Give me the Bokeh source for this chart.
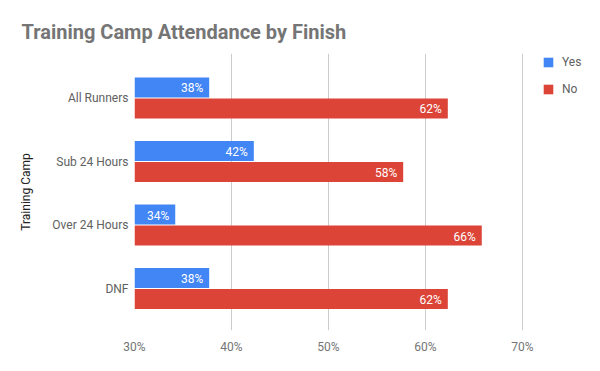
from bokeh.plotting import figure
from bokeh.models import ColumnDataSource, FixedTicker, PrintfTickFormatter, Legend, LegendItem, Range1d
from bokeh.core.properties import value
from bokeh.embed import file_html
from bokeh.resources import INLINE

categories = ["All Runners", "Sub 24 Hours", "Over 24 Hours", "DNF"]
yes_values = [37.7, 42.3, 34.2, 37.7]
no_values = [62.3, 57.7, 65.8, 62.3]
series_names = ["Yes", "No"]
x_ticks = [30, 40, 50, 60, 70]

BLUE = "#4285F4"
RED = "#DB4437"
FONT = "Roboto"
X_MIN, X_MAX = 30, 70

n = len(categories)
pos = [n - 1 - i for i in range(n)]
off = 0.165
bh = 0.315

yes_src = ColumnDataSource(dict(
    y=[p_ + off for p_ in pos], right=yes_values, left=[X_MIN] * n,
    label=[f"{round(v)}%" for v in yes_values]))
no_src = ColumnDataSource(dict(
    y=[p_ - off for p_ in pos], right=no_values, left=[X_MIN] * n,
    label=[f"{round(v)}%" for v in no_values]))

W, H = 592, 360
FL, FR, FT, FB = 134, 592, 53, 330          # frame edges in pixels
px_per_unit = (522 - FL) / (X_MAX - X_MIN)   # 70% gridline at x=522
x_end = X_MIN + (FR - FL) / px_per_unit      # extra room for legend

p = figure(width=W, height=H, output_backend="svg", toolbar_location=None,
           x_range=Range1d(X_MIN, x_end), y_range=Range1d(-0.66, n - 1 + 0.70),
           min_border_left=FL, min_border_right=W - FR, min_border_top=FT,
           min_border_bottom=H - FB)
p.outline_line_color = None
p.background_fill_color = "white"
p.border_fill_color = "white"

r_yes = p.hbar(y="y", left="left", right="right", height=bh, source=yes_src,
               fill_color=BLUE, line_color=None)
r_no = p.hbar(y="y", left="left", right="right", height=bh, source=no_src,
              fill_color=RED, line_color=None)

for src in (yes_src, no_src):
    p.text(x="right", y="y", text="label", source=src, text_align="right",
           text_baseline="middle", x_offset=-6, y_offset=1, text_color="white",
           text_font_size="12px", text_font=value(FONT))

# axes
for ax in (p.xaxis, p.yaxis):
    ax.axis_line_color = None
    ax.major_tick_line_color = None
    ax.minor_tick_line_color = None
    ax.major_tick_out = 0
    ax.major_tick_in = 0
    ax.minor_tick_out = 0
    ax.minor_tick_in = 0
    ax.major_label_text_font = FONT
    ax.major_label_text_font_size = "12px"

p.xaxis.ticker = FixedTicker(ticks=x_ticks)
p.xaxis.formatter = PrintfTickFormatter(format="%d%%")
p.xaxis.major_label_text_color = "#757575"
p.xaxis.major_label_standoff = 9

p.yaxis.ticker = FixedTicker(ticks=pos)
p.yaxis.major_label_overrides = {pos[i]: categories[i] for i in range(n)}
p.yaxis.major_label_text_color = "#616161"
p.yaxis.major_label_standoff = 6
p.yaxis.axis_label = "Training Camp"
p.yaxis.axis_label_text_font = FONT
p.yaxis.axis_label_text_font_size = "12px"
p.yaxis.axis_label_text_font_style = "normal"
p.yaxis.axis_label_text_color = "#222222"
p.yaxis.axis_label_standoff = 16

p.xgrid.grid_line_color = "#cccccc"
p.xgrid.ticker = FixedTicker(ticks=x_ticks)
p.ygrid.grid_line_color = None

# title
p.title.text = "Training Camp Attendance by Finish"
p.title.text_font = FONT
p.title.text_font_size = "20px"
p.title.text_font_style = "bold"
p.title.text_color = "#757575"
p.title.align = "left"
p.title.offset = -113
p.title.standoff = 19

legend = Legend(items=[LegendItem(label=series_names[0], renderers=[r_yes]),
                       LegendItem(label=series_names[1], renderers=[r_no])],
                location=(408, 234), orientation="vertical")
legend.glyph_width = 12
legend.glyph_height = 12
legend.label_height = 12
legend.spacing = 13
legend.padding = 0
legend.margin = 0
legend.label_standoff = 8
legend.label_text_font = FONT
legend.label_text_font_size = "12px"
legend.label_text_color = "#616161"
legend.label_text_baseline = "middle"
legend.border_line_color = None
legend.background_fill_alpha = 0
p.add_layout(legend)

open("out.html", "w").write(file_html(p, INLINE))
